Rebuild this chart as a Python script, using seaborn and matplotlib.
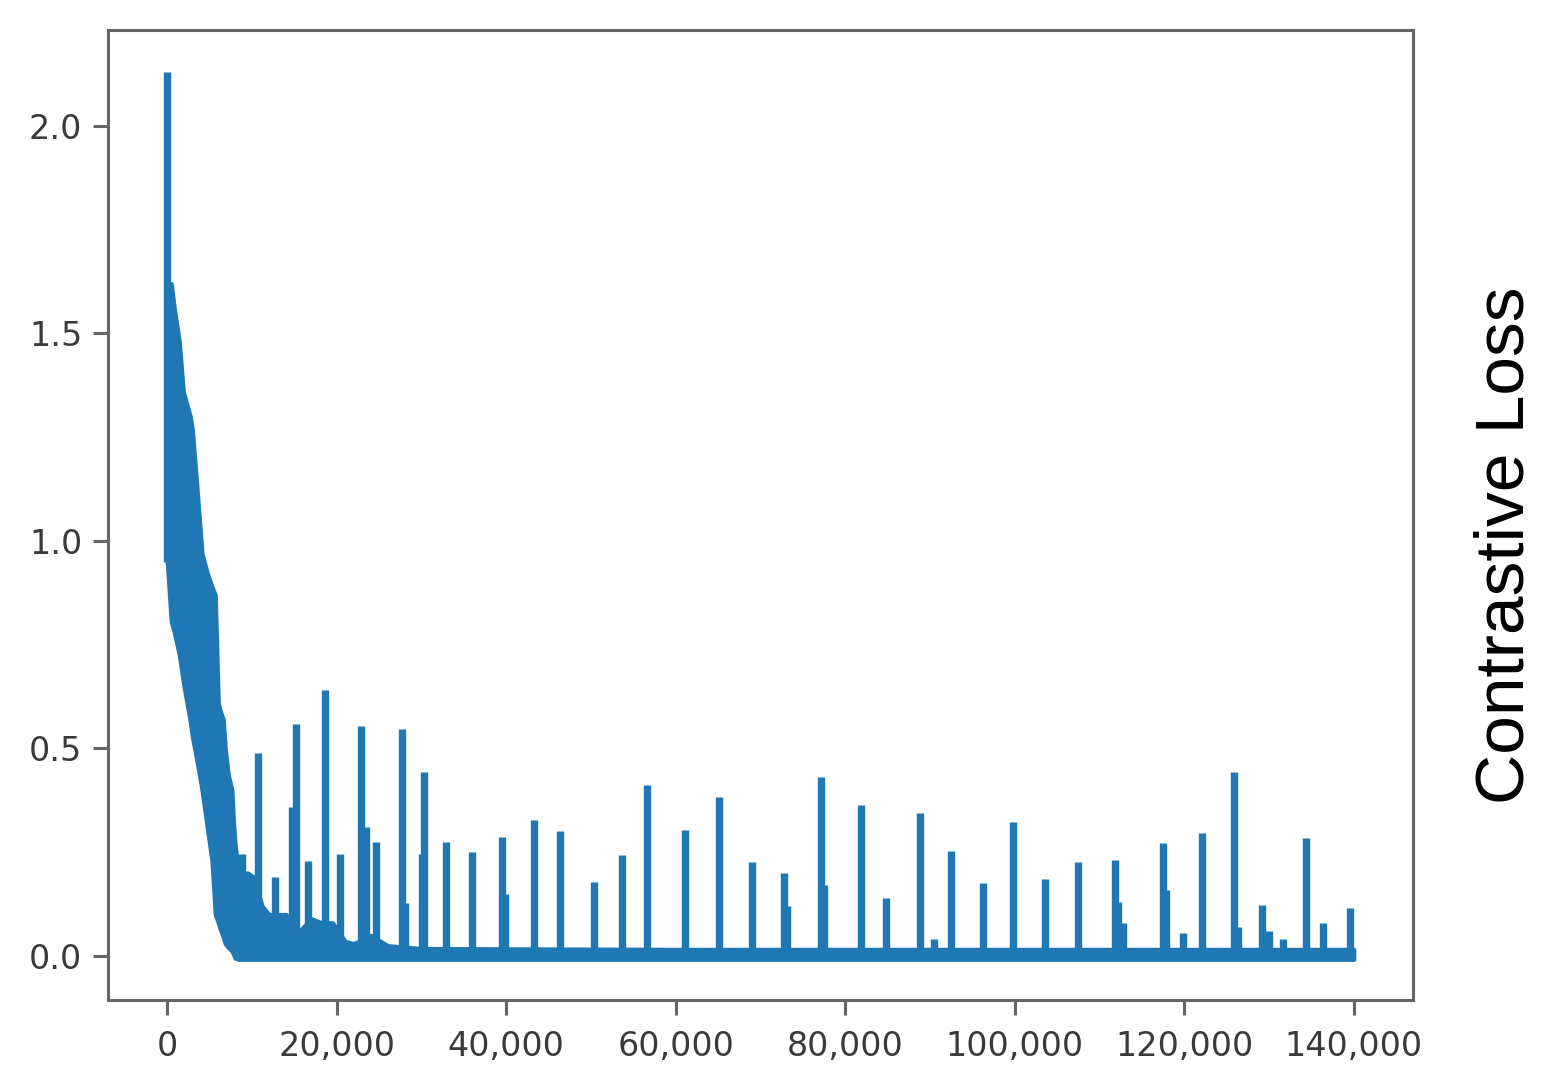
import matplotlib
matplotlib.use("Agg")
import matplotlib.pyplot as plt
import seaborn as sns
import pandas as pd
import numpy as np

# ---------------- data ----------------
# dense noisy band of the loss curve: training step, lower and upper envelope
band_steps = [0, 470, 830, 1420, 1890, 2710, 2950, 3500, 4100, 4680, 5270,
              5660, 6020, 6250, 6610, 6840, 7200, 7630, 7790, 8000, 8400,
              9500, 10200, 11200, 12000, 14000, 15600, 17000, 18200, 19500,
              21000, 22000, 24000, 26000, 30000, 60000, 100000, 140000]
band_upper = [1.62, 1.62, 1.56, 1.48, 1.36, 1.30, 1.27, 1.13, 0.97, 0.925, 0.89,
              0.87, 0.61, 0.59, 0.57, 0.50, 0.436, 0.40, 0.33, 0.27, 0.20,
              0.20, 0.19, 0.12, 0.10, 0.10, 0.06, 0.09, 0.08, 0.08,
              0.035, 0.03, 0.05, 0.025, 0.018, 0.016, 0.016, 0.016]
band_lower = [0.95, 0.805, 0.78, 0.725, 0.66, 0.565, 0.53, 0.47, 0.40, 0.315, 0.23,
              0.10, 0.08, 0.065, 0.045, 0.03, 0.02, 0.012, 0.005, -0.005, -0.008,
              -0.008, -0.008, -0.008, -0.008, -0.008, -0.008, -0.008, -0.008, -0.008,
              -0.008, -0.008, -0.008, -0.008, -0.008, -0.008, -0.008, -0.008]

# isolated loss spikes: training step and peak loss
spike_steps = [0, 8850, 10740, 12740, 14700, 15200, 16640, 18640, 20400, 22900,
               23400, 24660, 27730, 28000, 30000, 30330, 32900, 36000, 39500,
               39900, 43300, 46300, 50300, 53700, 56600, 61100, 65100, 69000,
               72800, 73100, 77100, 77500, 81800, 84800, 88850, 90500, 92500,
               96300, 99800, 103600, 107500, 111800, 112200, 112800, 117500,
               117900, 119800, 122100, 125900, 126400, 129200, 130000, 131600,
               134400, 136400, 139600]
spike_peaks = [2.13, 0.245, 0.49, 0.19, 0.36, 0.56, 0.23, 0.64, 0.245, 0.555,
               0.31, 0.275, 0.548, 0.127, 0.245, 0.444, 0.275, 0.251, 0.287,
               0.15, 0.328, 0.30, 0.179, 0.243, 0.412, 0.304, 0.384, 0.227,
               0.20, 0.12, 0.432, 0.17, 0.364, 0.14, 0.344, 0.04, 0.254,
               0.176, 0.324, 0.185, 0.227, 0.231, 0.13, 0.08, 0.272,
               0.16, 0.055, 0.296, 0.444, 0.07, 0.123, 0.06, 0.04,
               0.284, 0.08, 0.115]

x_ticks = [0, 20000, 40000, 60000, 80000, 100000, 120000, 140000]
x_tick_labels = ["0", "20,000", "40,000", "60,000", "80,000", "100,000",
                 "120,000", "140,000"]
y_ticks = [0.0, 0.5, 1.0, 1.5, 2.0]
y_tick_labels = ["0.0", "0.5", "1.0", "1.5", "2.0"]
y_label = "Contrastive Loss"

# ---------------- style ----------------
sns.set_theme(style="white")
plt.rcParams["font.family"] = ["DejaVu Sans"]
BLUE = "#1f77b4"
GRAY = "#666666"

fig = plt.figure(figsize=(15.53, 10.84), dpi=100)
ax = fig.add_axes([0.0695, 0.0775, 0.8404, 0.8948])

# band
ax.fill_between(band_steps, band_lower, band_upper, color=BLUE,
                edgecolor=BLUE, linewidth=3.0, zorder=2)

# spikes (each rises from the band's lower edge at its step)
rows = []
for i, (s, p) in enumerate(zip(spike_steps, spike_peaks)):
    base = max(float(np.interp(s, band_steps, band_lower)), 0.0)
    rows.append((i, s, base))
    rows.append((i, s, p))
spikes = pd.DataFrame(rows, columns=["spike", "step", "loss"])
sns.lineplot(data=spikes, x="step", y="loss", units="spike", estimator=None,
             sort=False, color=BLUE, linewidth=5.3, legend=False, ax=ax,
             solid_capstyle="butt", zorder=3)

ax.set_xlim(-7000, 147000)
ax.set_ylim(-0.106, 2.231)
ax.set_xticks(x_ticks)
ax.set_xticklabels(x_tick_labels)
ax.set_yticks(y_ticks)
ax.set_yticklabels(y_tick_labels)
ax.set_xlabel("")
ax.set_ylabel("")

for sp in ax.spines.values():
    sp.set_visible(True)
    sp.set_color(GRAY)
    sp.set_linewidth(2.2)

ax.tick_params(axis="both", which="major", direction="out", length=10.5,
               width=2.2, color=GRAY, labelsize=24, labelcolor="#3a3a3a",
               left=True, bottom=True)
ax.tick_params(axis="y", pad=8)
ax.tick_params(axis="x", pad=11)

fig.text(0.9695, 0.4972, y_label, rotation=90, ha="center", va="center",
         fontsize=50, color="black", family=["Liberation Sans", "DejaVu Sans"])

fig.savefig("out.png", dpi=100)
